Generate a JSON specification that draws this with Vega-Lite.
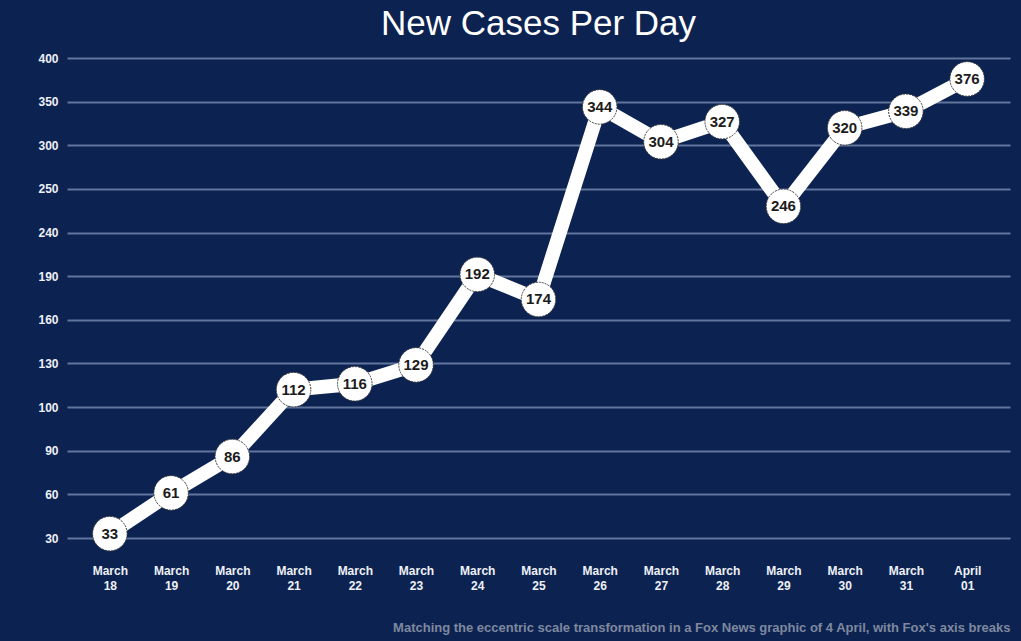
{
  "$schema": "https://vega.github.io/schema/vega-lite/v6.json",
  "autosize": {"type": "none"},
  "width": 943,
  "height": 500,
  "padding": {"left": 67, "top": 50, "right": 11, "bottom": 91},
  "background": "#0c2352",
  "title": {
    "text": "New Cases Per Day",
    "color": "#ffffff",
    "font": "Liberation Sans",
    "fontSize": 35,
    "fontWeight": "normal",
    "anchor": "middle",
    "offset": 8
  },
  "config": {
    "view": {"stroke": null},
    "font": "Liberation Sans"
  },
  "data": {
    "values": [
      {"day": "March 18", "cases": 33},
      {"day": "March 19", "cases": 61},
      {"day": "March 20", "cases": 86},
      {"day": "March 21", "cases": 112},
      {"day": "March 22", "cases": 116},
      {"day": "March 23", "cases": 129},
      {"day": "March 24", "cases": 192},
      {"day": "March 25", "cases": 174},
      {"day": "March 26", "cases": 344},
      {"day": "March 27", "cases": 304},
      {"day": "March 28", "cases": 327},
      {"day": "March 29", "cases": 246},
      {"day": "March 30", "cases": 320},
      {"day": "March 31", "cases": 339},
      {"day": "April 01", "cases": 376}
    ]
  },
  "encoding": {
    "x": {
      "field": "day",
      "type": "ordinal",
      "sort": null,
      "scale": {"type": "point", "padding": 0.7},
      "axis": {
        "title": "Matching the eccentric scale transformation in a Fox News graphic of 4 April, with Fox's axis breaks",
        "titleColor": "#7f889e",
        "titleFont": "Liberation Sans",
        "titleFontSize": 13,
        "titleFontWeight": "bold",
        "titleAnchor": "end",
        "titleAlign": "right",
        "titlePadding": 30,
        "labelAngle": 0,
        "labelExpr": "split(datum.value, ' ')",
        "labelColor": "#eef0f6",
        "labelFontSize": 12,
        "labelFontWeight": "bold",
        "labelLineHeight": 15,
        "labelPadding": 15,
        "domain": false,
        "ticks": false,
        "grid": false
      }
    },
    "y": {
      "field": "cases",
      "type": "quantitative",
      "scale": {
        "domain": [30, 60, 90, 100, 130, 160, 190, 240, 250, 300, 350, 400],
        "range": [488, 444.36, 400.73, 357.09, 313.45, 269.82, 226.18, 182.55, 138.91, 95.27, 51.64, 8],
        "zero": false,
        "nice": false
      },
      "axis": {
        "title": null,
        "values": [30, 60, 90, 100, 130, 160, 190, 240, 250, 300, 350, 400],
        "labelColor": "#eef0f6",
        "labelFontSize": 12,
        "labelFontWeight": "bold",
        "labelPadding": 9,
        "domain": false,
        "ticks": false,
        "grid": true,
        "gridColor": "#62759c",
        "gridWidth": 2
      }
    }
  },
  "layer": [
    {
      "mark": {"type": "line", "color": "#ffffff", "strokeWidth": 14}
    },
    {
      "mark": {"type": "point", "filled": false, "fill": "#ffffff", "fillOpacity": 1, "stroke": "#3a3a3a", "strokeWidth": 1, "strokeDash": [2, 1], "size": 1190, "opacity": 1}
    },
    {
      "mark": {"type": "text", "color": "#1c1c1c", "fontSize": 15, "fontWeight": "bold", "font": "Liberation Sans", "align": "center", "baseline": "middle"},
      "encoding": {"text": {"field": "cases", "type": "quantitative"}}
    }
  ]
}
